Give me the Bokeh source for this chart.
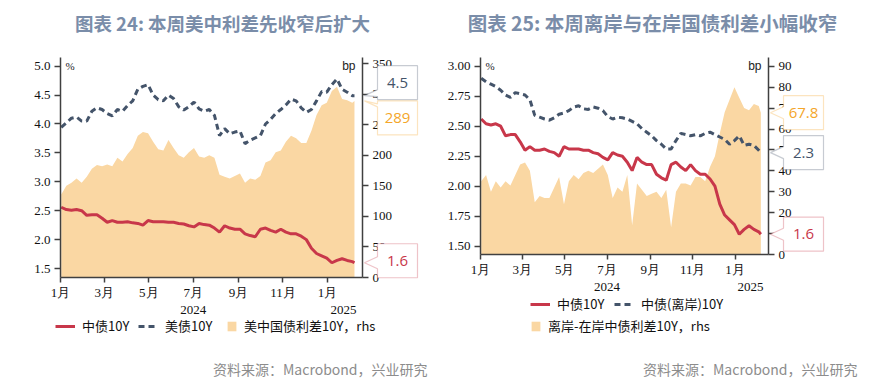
import pandas as pd
from bokeh.plotting import figure
from bokeh.layouts import row
from bokeh.models import (Range1d, LinearAxis, FixedTicker, SingleIntervalTicker, Legend,
                          LegendItem, Label, PolyAnnotation, ColumnDataSource, PrintfTickFormatter)
from bokeh.embed import file_html
from bokeh.resources import INLINE

# ---------------- data ----------------
dates = list(pd.date_range("2024-01-02", "2025-02-04", freq="7D")) + [pd.Timestamp("2025-02-07")]

cn10y = [2.56, 2.52, 2.51, 2.52, 2.50, 2.42, 2.43, 2.43, 2.37, 2.30,
         2.33, 2.30, 2.30, 2.31, 2.29, 2.28, 2.25, 2.33, 2.31, 2.31,
         2.31, 2.30, 2.30, 2.28, 2.27, 2.24, 2.22, 2.28, 2.26, 2.25,
         2.20, 2.13, 2.24, 2.20, 2.18, 2.18, 2.10, 2.07, 2.05, 2.18,
         2.20, 2.16, 2.13, 2.18, 2.13, 2.10, 2.10, 2.06, 2.00, 1.85,
         1.76, 1.72, 1.68, 1.60, 1.64, 1.67, 1.64, 1.62, 1.60]

us10y = [3.94, 4.02, 4.10, 4.12, 4.05, 4.05, 4.22, 4.28, 4.25, 4.18,
         4.14, 4.25, 4.22, 4.32, 4.40, 4.60, 4.65, 4.68, 4.50, 4.42,
         4.40, 4.50, 4.44, 4.30, 4.24, 4.30, 4.38, 4.26, 4.22, 4.25,
         4.15, 3.80, 3.92, 3.83, 3.86, 3.88, 3.66, 3.72, 3.76, 3.80,
         4.00, 4.08, 4.18, 4.25, 4.33, 4.43, 4.40, 4.28, 4.20, 4.25,
         4.40, 4.56, 4.55, 4.68, 4.78, 4.60, 4.55, 4.49, 4.49]

us_cn_spread = [136, 150, 155, 162, 155, 165, 178, 184, 182, 185,
                182, 196, 190, 202, 212, 232, 238, 236, 222, 210,
                208, 225, 212, 200, 196, 205, 212, 198, 196, 200,
                196, 168, 165, 162, 166, 170, 155, 162, 160, 166,
                188, 192, 205, 208, 222, 232, 228, 220, 220, 240,
                266, 282, 286, 305, 312, 292, 290, 286, 289]

cnh10y = [2.90, 2.87, 2.85, 2.83, 2.80, 2.76, 2.74, 2.78, 2.77, 2.76,
          2.72, 2.59, 2.575, 2.56, 2.55, 2.57, 2.60, 2.61, 2.63, 2.66,
          2.67, 2.645, 2.64, 2.66, 2.65, 2.63, 2.58, 2.56, 2.575, 2.57,
          2.56, 2.54, 2.52, 2.48, 2.45, 2.42, 2.38, 2.35, 2.31, 2.31,
          2.38, 2.44, 2.43, 2.42, 2.43, 2.42, 2.44, 2.45, 2.43, 2.41,
          2.39, 2.35, 2.38, 2.42, 2.34, 2.35, 2.34, 2.30, 2.28]

cnh_cn_spread = [35, 38, 30, 35, 32, 35, 33, 38, 43, 44,
                 40, 25, 28, 27, 27, 32, 37, 24, 35, 38,
                 36, 39, 40, 39, 41, 43, 38, 27, 32, 30,
                 38, 14, 34, 31, 28, 29, 30, 27, 31, 13,
                 30, 34, 34, 33, 37, 37, 35, 42, 47, 58,
                 68, 74, 80, 75, 70, 69, 72, 71, 67.8]

month_ticks = ["2024-01-01", "2024-03-01", "2024-05-01", "2024-07-01",
               "2024-09-01", "2024-11-01", "2025-01-01"]
month_labels = ["1月", "3月", "5月", "7月", "9月", "11月", "1月"]
year_ticks = ["2024-07-01", "2025-01-23"]
year_labels = ["2024", "2025"]

titles = ["图表 24: 本周美中利差先收窄后扩大", "图表 25: 本周离岸与在岸国债利差小幅收窄"]
source_note = "资料来源：Macrobond，兴业研究"
legend_labels_1 = ["中债10Y", "美债10Y", "美中国债利差10Y，rhs"]
legend_labels_2 = ["中债10Y", "中债(离岸)10Y", "离岸-在岸中债利差10Y，rhs"]

# ---------------- style ----------------
RED = "#C8374A"
NAVY = "#44546A"
FILL = "#FAD7A3"
ORANGE = "#F4A62A"
TITLE_C = "#7A8DA9"
AXIS_C = "#404040"
CJK = "Noto Sans CJK SC"
SERIF = "Liberation Serif"
HH = 381


def ms(d):
    return pd.Timestamp(d).value / 1e6


X0, X1 = ms("2024-01-01"), ms("2025-02-18")


def style_axis(ax, tick_out=6, standoff=4):
    ax.axis_line_color = AXIS_C
    ax.axis_line_width = 1.5
    ax.major_tick_line_color = AXIS_C
    ax.major_tick_line_width = 1.5
    ax.major_tick_out = tick_out
    ax.major_tick_in = 0
    ax.minor_tick_line_color = None
    ax.major_label_standoff = standoff
    ax.major_label_text_font = SERIF
    ax.major_label_text_font_size = "13px"
    ax.major_label_text_color = "#111111"


def build(cfg):
    W = cfg["W"]
    L, R, T, B = cfg["area"]          # plot-area edges in canvas pixels
    yl0, yl1 = cfg["yl"]
    yr0, yr1 = cfg["yr"]
    kx = (X1 - X0) / (R - L)
    ky = (yl1 - yl0) / (B - T)
    kr = (yr1 - yr0) / (B - T)

    def px(x):
        return X0 + (x - L) * kx

    def py(y):
        return yl0 + (B - y) * ky

    p = figure(width=W, height=HH, x_axis_type="datetime",
               x_range=Range1d(px(0), px(W)), y_range=Range1d(py(HH), py(0)),
               output_backend="svg", toolbar_location=None,
               min_border=0, min_border_left=0, min_border_right=0,
               min_border_top=0, min_border_bottom=0)
    p.extra_y_ranges = {"r": Range1d(yr0 - (HH - B) * kr, yr1 + T * kr)}
    p.outline_line_color = None
    p.grid.visible = False
    p.background_fill_color = "white"
    p.border_fill_color = "white"

    src = ColumnDataSource(dict(date=dates, a=cfg["line1"], b=cfg["line2"], s=cfg["spread"]))
    r_fill = p.varea(x="date", y1=0, y2="s", source=src, y_range_name="r", fill_color=FILL)
    r_red = p.line(x="date", y="a", source=src, line_color=RED, line_width=3)
    r_dash = p.line(x="date", y="b", source=src, line_color=NAVY, line_width=3, line_dash="6 4")

    # axes drawn at the plot-area edges
    la = p.yaxis[0]
    la.ticker = SingleIntervalTicker(interval=cfg["lint"])
    la.formatter = PrintfTickFormatter(format=cfg["lfmt"])
    la.fixed_location = X0
    la.bounds = (yl0, yl1)
    style_axis(la)

    ra = LinearAxis(y_range_name="r", ticker=SingleIntervalTicker(interval=cfg["rint"]),
                    formatter=PrintfTickFormatter(format="%d"),
                    fixed_location=X1, bounds=(yr0, yr1))
    style_axis(ra)
    p.add_layout(ra, "right")

    xa = p.xaxis[0]
    xa.ticker = FixedTicker(ticks=[ms(t) for t in month_ticks])
    xa.major_label_overrides = {ms(t): l for t, l in zip(month_ticks, month_labels)}
    xa.fixed_location = yl0
    xa.bounds = (X0, X1)
    style_axis(xa, tick_out=5, standoff=2)

    ya = LinearAxis(ticker=FixedTicker(ticks=[ms(t) for t in year_ticks]),
                    fixed_location=yl0, bounds=(X0, X1))
    ya.major_label_overrides = {ms(t): l for t, l in zip(year_ticks, year_labels)}
    style_axis(ya, tick_out=0, standoff=28)
    ya.axis_line_color = None
    ya.major_tick_line_color = None
    p.add_layout(ya, "below")

    # legends, one per item
    rends = [r_red, r_dash, r_fill]
    for (lab, rend, (lx, ly), gw) in zip(cfg["legend_labels"], rends, cfg["legend_pos"], [20, 20, 11]):
        lg = Legend(items=[LegendItem(label=lab, renderers=[rend])], location=(lx, HH - ly - 6),
                    orientation="horizontal", glyph_width=gw, glyph_height=12, label_height=12,
                    label_standoff=7, padding=0, margin=0, spacing=0,
                    border_line_color=None, background_fill_alpha=0,
                    label_text_font=CJK, label_text_font_size="13px", label_text_color="#111111")
        p.add_layout(lg, "center")

    # title, source note, units
    tx, tyy = cfg["title_pos"]
    p.add_layout(Label(x=px(tx), y=py(tyy), text=cfg["title"],
                       text_align="center", text_baseline="middle", text_font=CJK,
                       text_font_style="bold", text_font_size=cfg["title_size"], text_color=TITLE_C))
    fx, fy = cfg["foot_pos"]
    p.add_layout(Label(x=px(fx), y=py(fy), text=source_note,
                       text_align="right", text_baseline="middle", text_font=CJK,
                       text_font_size="14px", text_color="#8C8C8C"))
    p.add_layout(Label(x=px(L + 5), y=py(T + 8), text="%", text_align="left",
                       text_baseline="middle", text_font=SERIF, text_font_size="11px",
                       text_color="#222222"))
    p.add_layout(Label(x=px(R - 7), y=py(T + 8), text="bp", text_align="right",
                       text_baseline="middle", text_font="Liberation Sans", text_font_size="12px",
                       text_color="#222222"))

    # value call-outs at the right edge
    for (v, ax, color, dy, fmt) in cfg["callouts"]:
        if ax == "l":
            t = B - (v - yl0) / ky
        else:
            t = B - (v - yr0) / kr
        c = t + dy
        bx = R + 15
        top, bot = c - 17, c + 17
        n_lo = max(t - 6, top + 3)
        n_hi = min(t + 6, bot - 3)
        xs = [bx, bx + 40, bx + 40, bx, bx, R + 2, bx]
        ys = [top, top, bot, bot, n_hi, t, n_lo]
        p.add_layout(PolyAnnotation(xs=[px(a) for a in xs], ys=[py(b) for b in ys],
                                    fill_color="white", fill_alpha=1.0,
                                    line_color=color, line_width=1.2))
        p.add_layout(Label(x=px(bx + 20), y=py(c), text=fmt.format(v), text_align="center",
                           text_baseline="middle", text_font="Open Sans", text_font_size="15px",
                           text_color=color))
    return p


cfg1 = dict(W=440, area=(60, 362, 57, 277), yl=(1.345, 5.15), yr=(0, 360),
            lint=0.5, lfmt="%.1f", rint=50,
            line1=cn10y, line2=us10y, spread=us_cn_spread,
            legend_labels=legend_labels_1,
            legend_pos=[(55, 329), (138, 329), (226, 329)],
            title=titles[0], title_pos=(222, 22), title_size="18.5px",
            foot_pos=(427, 368),
            callouts=[(us10y[-1], "l", NAVY, -13, "{:.1f}"),
                      (us_cn_spread[-1], "r", ORANGE, 17, "{:.0f}"),
                      (cn10y[-1], "l", RED, -2, "{:.1f}")])

cfg2 = dict(W=439, area=(40, 328, 57, 254), yl=(1.431, 3.0725), yr=(0, 94.2),
            lint=0.25, lfmt="%.2f", rint=10,
            line1=cn10y, line2=cnh10y, spread=cnh_cn_spread,
            legend_labels=legend_labels_2,
            legend_pos=[(90, 307), (174, 307), (90, 329)],
            title=titles[1], title_pos=(212, 22), title_size="19.5px",
            foot_pos=(417, 368),
            callouts=[(cnh_cn_spread[-1], "r", ORANGE, 0, "{:.1f}"),
                      (cnh10y[-1], "l", NAVY, 0, "{:.1f}"),
                      (cn10y[-1], "l", RED, 0, "{:.1f}")])

p = row(build(cfg1), build(cfg2))
open("out.html", "w").write(file_html(p, INLINE))
